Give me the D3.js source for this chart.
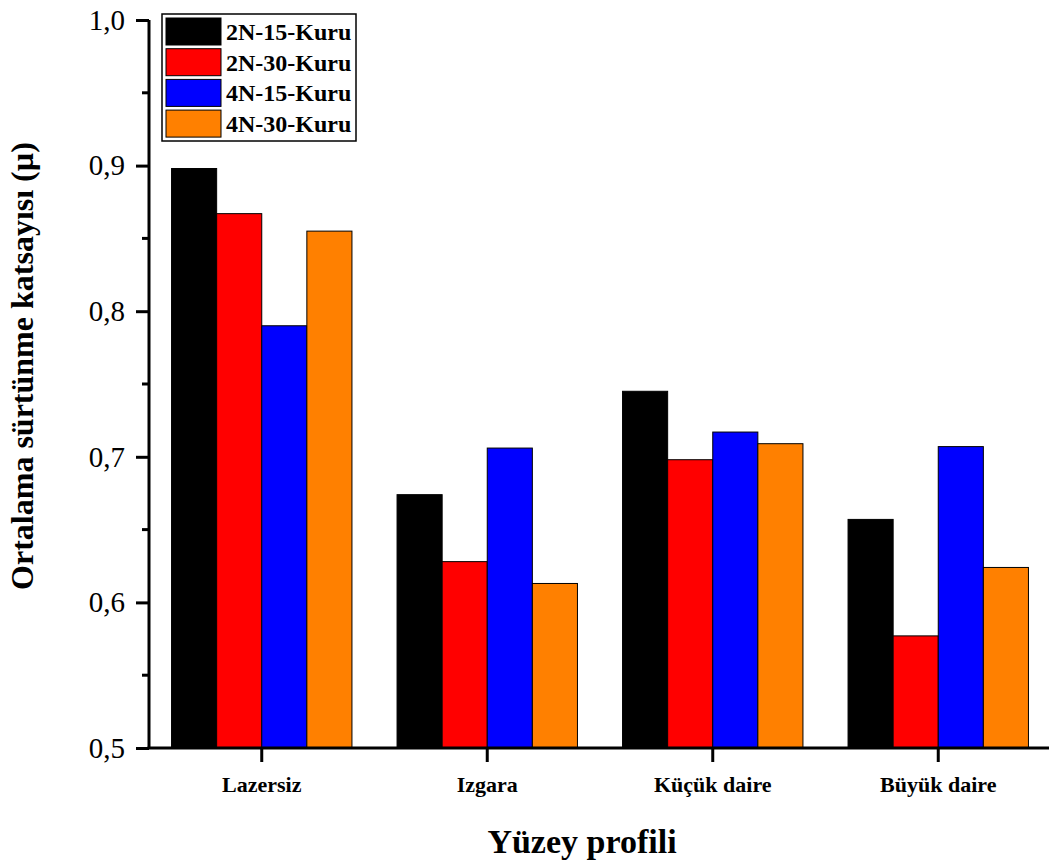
<!DOCTYPE html>
<html>
<head>
<meta charset="utf-8">
<script src="https://cdn.jsdelivr.net/npm/d3@7"></script>
<style>
  body { margin: 0; background: #fff; }
  svg { display: block; }
</style>
</head>
<body>
<svg id="chart" width="1049" height="864"></svg>
<script>
// data
const categories = ["Lazersiz", "Izgara", "Küçük daire", "Büyük daire"];
const seriesNames = ["2N-15-Kuru", "2N-30-Kuru", "4N-15-Kuru", "4N-30-Kuru"];
const seriesColors = ["#000000", "#ff0000", "#0000ff", "#ff8000"];
const s2N15 = [0.898, 0.674, 0.745, 0.657];
const s2N30 = [0.867, 0.628, 0.698, 0.577];
const s4N15 = [0.790, 0.706, 0.717, 0.707];
const s4N30 = [0.855, 0.613, 0.709, 0.624];
const yTicks = [0.5, 0.6, 0.7, 0.8, 0.9, 1.0];
const yMinor = [0.55, 0.65, 0.75, 0.85, 0.95];

const allSeries = [s2N15, s2N30, s4N15, s4N30];

const svg = d3.select("#chart");
const plotL = 149, plotR = 1051, plotT = 20, plotB = 748;
const serif = "'Liberation Serif', 'Times New Roman', serif";

const x = d3.scaleBand().domain(categories).range([plotL, plotR])
    .paddingInner(0.2).paddingOuter(0.1);
const xs = d3.scaleBand().domain(seriesNames).range([0, x.bandwidth()]);
const y = d3.scaleLinear().domain([0.5, 1.0]).range([plotB, plotT]);

// bars
const rows = [];
categories.forEach((c, i) => {
    seriesNames.forEach((s, j) => {
        rows.push({ cat: c, ser: s, val: allSeries[j][i], color: seriesColors[j] });
    });
});
svg.append("g").selectAll("rect").data(rows).join("rect")
    .attr("x", d => x(d.cat) + xs(d.ser))
    .attr("y", d => y(d.val))
    .attr("width", xs.bandwidth())
    .attr("height", d => y(0.5) - y(d.val))
    .attr("fill", d => d.color)
    .attr("stroke", "#000")
    .attr("stroke-width", 1);

// y axis
const yAxis = svg.append("g").attr("transform", `translate(${plotL},0)`)
    .call(d3.axisLeft(y).tickValues(yTicks).tickSize(13).tickPadding(11)
        .tickFormat(d => d3.format(".1f")(d).replace(".", ",")));
yAxis.select(".domain").attr("stroke-width", 3).attr("d", `M0,${plotT}V${plotB}`);
yAxis.selectAll(".tick line").attr("stroke-width", 3);
yAxis.selectAll(".tick text").attr("font-family", serif).attr("font-size", 29)
    .attr("fill", "#000");
svg.append("g").attr("transform", `translate(${plotL},0)`)
    .selectAll("line").data(yMinor).join("line")
    .attr("x1", -7).attr("x2", 0)
    .attr("y1", d => y(d)).attr("y2", d => y(d))
    .attr("stroke", "#000").attr("stroke-width", 3);

// x axis
const xAxis = svg.append("g").attr("transform", `translate(0,${plotB})`)
    .call(d3.axisBottom(x).tickSize(14).tickPadding(14));
xAxis.select(".domain").attr("stroke-width", 3).attr("d", `M${plotL - 1.5},0H1049`);
xAxis.selectAll(".tick line").attr("stroke-width", 3);
xAxis.selectAll(".tick text").attr("font-family", serif).attr("font-size", 22)
    .attr("font-weight", "bold").attr("fill", "#000");

// axis titles
svg.append("text")
    .attr("transform", "translate(33,366) rotate(-90)")
    .attr("text-anchor", "middle")
    .attr("font-family", serif).attr("font-size", 32).attr("font-weight", "bold")
    .text("Ortalama sürtünme katsayısı (µ)");
svg.append("text")
    .attr("x", 582).attr("y", 853)
    .attr("text-anchor", "middle")
    .attr("font-family", serif).attr("font-size", 34).attr("font-weight", "bold")
    .text("Yüzey profili");

// legend
const lg = svg.append("g").attr("transform", "translate(162,14)");
lg.append("rect").attr("width", 194).attr("height", 127)
    .attr("fill", "#fff").attr("stroke", "#000").attr("stroke-width", 1.5);
const item = lg.selectAll("g.item").data(seriesNames).join("g")
    .attr("class", "item")
    .attr("transform", (d, i) => `translate(4,${4 + i * 30.7})`);
item.append("rect").attr("width", 55).attr("height", 27)
    .attr("fill", (d, i) => seriesColors[i]).attr("stroke", "#000").attr("stroke-width", 1);
item.append("text").attr("x", 60).attr("y", 22)
    .attr("font-family", serif).attr("font-size", 24).attr("font-weight", "bold")
    .text(d => d);
</script>
</body>
</html>
